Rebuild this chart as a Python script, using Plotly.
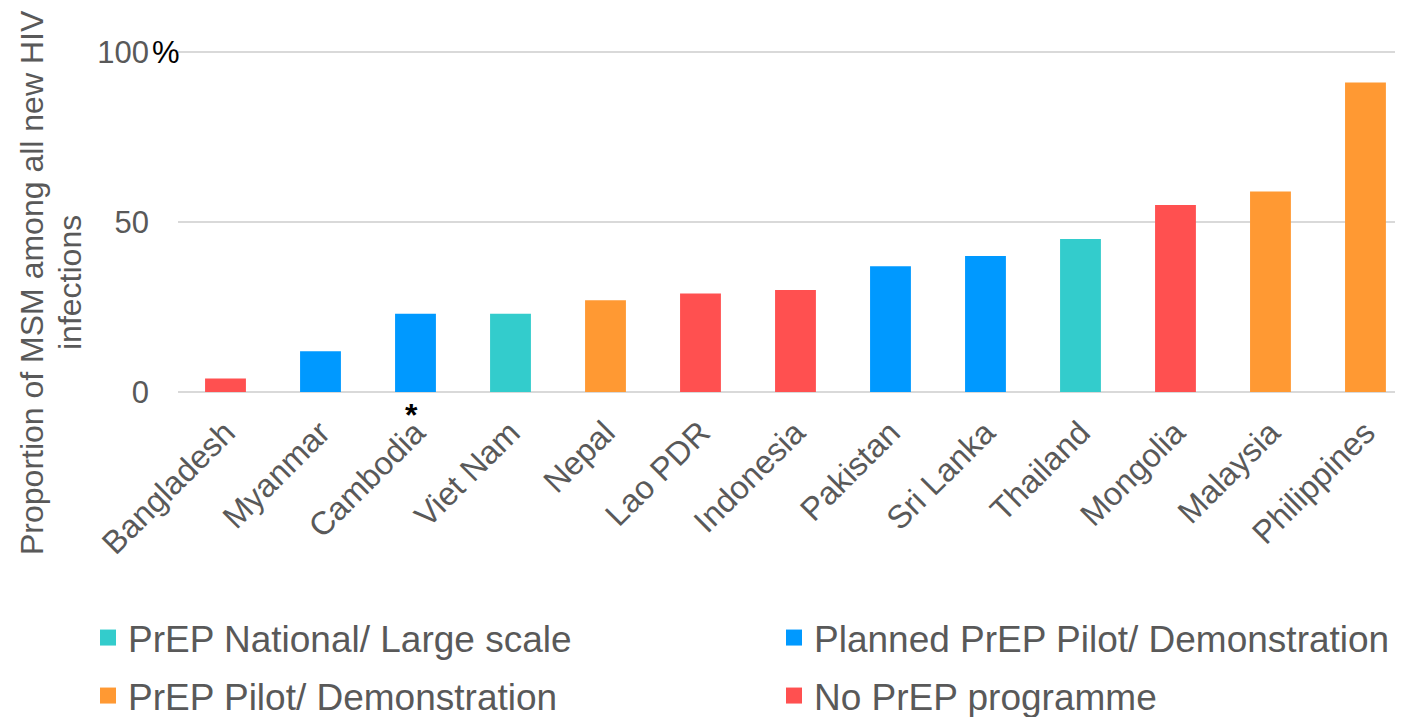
import plotly.graph_objects as go

countries = ["Bangladesh", "Myanmar", "Cambodia", "Viet Nam", "Nepal", "Lao PDR", "Indonesia",
             "Pakistan", "Sri Lanka", "Thailand", "Mongolia", "Malaysia", "Philippines"]
values = [4, 12, 23, 23, 27, 29, 30, 37, 40, 45, 55, 59, 91]
status = ["none", "planned", "planned", "national", "pilot", "none", "none",
          "planned", "planned", "national", "none", "pilot", "pilot"]

groups = ["national", "planned", "pilot", "none"]
group_names = ["PrEP National/ Large scale", "Planned PrEP Pilot/ Demonstration",
               "PrEP Pilot/ Demonstration", "No PrEP programme"]
group_colors = ["#33CCCC", "#0099FF", "#FF9933", "#FF5050"]

y_ticks = [0, 50, 100]
y_ticktext = ["0", "50", "100"]

GRAY = "#595959"
FONT = "Liberation Sans, Arial, sans-serif"

# page has an 8px body margin; figure sized to fill the rest of the window
OFF = 8
FW, FH = 1403 - OFF, 717 - OFF
L, T, B, R = 178 - OFF, 43, 325, 0
W, H = FW - L - R, FH - T - B
YMAX = 100.3
XMAX = 12.395

def px_to_paper_x(px):
    return (px - OFF - L) / W
def px_to_paper_y(py):
    return (FH - B - (py - OFF)) / H

fig = go.Figure()
legend_ids = ["legend", "legend2", "legend3", "legend4"]
for g, name, col, lid in zip(groups, group_names, group_colors, legend_ids):
    xs = [c for c, s in zip(countries, status) if s == g]
    ys = [v for v, s in zip(values, status) if s == g]
    fig.add_trace(go.Bar(x=xs, y=ys, name=name, marker_color=col,
                         marker_line_width=0, showlegend=False, width=0.43))
    # legend swatch
    fig.add_trace(go.Scatter(x=[None], y=[None], mode="markers", name=name,
                             marker=dict(symbol="square", size=19, color=col),
                             legend=lid, showlegend=True))

leg_common = dict(font=dict(size=37, color=GRAY, family=FONT), bgcolor="rgba(0,0,0,0)",
                  xanchor="left", yanchor="middle", itemclick=False, itemsizing="trace")
fig.update_layout(
    legend=dict(x=px_to_paper_x(88), y=px_to_paper_y(638), **leg_common),
    legend2=dict(x=px_to_paper_x(774), y=px_to_paper_y(638), **leg_common),
    legend3=dict(x=px_to_paper_x(88), y=px_to_paper_y(696), **leg_common),
    legend4=dict(x=px_to_paper_x(774), y=px_to_paper_y(696), **leg_common),
)

fig.add_annotation(x="Cambodia", y=0, xref="x", yref="y", text="<b>*</b>", showarrow=False,
                   yanchor="top", yshift=-3, xshift=-4,
                   font=dict(size=32, color="black", family=FONT))

# percent sign after the 100 tick
fig.add_annotation(xref="paper", yref="y", x=0, y=100, xanchor="left", yanchor="middle",
                   xshift=-28, showarrow=False, text="%",
                   font=dict(size=31, color="black", family=FONT))

title_lines = ["Proportion of MSM among all new HIV", "infections"]
for line, xpx in zip(title_lines, [32, 70]):
    fig.add_annotation(xref="paper", yref="paper", x=px_to_paper_x(xpx), y=px_to_paper_y(283),
                       xanchor="center", yanchor="middle", textangle=-90, showarrow=False,
                       text=line, font=dict(size=32, color=GRAY, family=FONT))

fig.update_layout(
    width=FW, height=FH,
    margin=dict(l=L, r=R, t=T, b=B, autoexpand=False),
    paper_bgcolor="white", plot_bgcolor="white",
    barmode="overlay",
    font=dict(family=FONT, color=GRAY, size=30),
    xaxis=dict(categoryorder="array", categoryarray=countries, tickangle=-45,
               range=[-0.5, XMAX],
               tickfont=dict(size=32.5, color=GRAY, family=FONT), showgrid=False,
               showline=False, zeroline=False, ticks="", ticklabelstandoff=14),
    yaxis=dict(range=[0, YMAX], tickvals=y_ticks, ticktext=y_ticktext,
               tickfont=dict(size=31, color=GRAY, family=FONT),
               showgrid=True, gridcolor="#D9D9D9", gridwidth=1.5, zeroline=True,
               zerolinecolor="#D9D9D9", zerolinewidth=2, showline=False,
               ticklabelstandoff=28),
    showlegend=True,
)

fig.write_html("out.html")
